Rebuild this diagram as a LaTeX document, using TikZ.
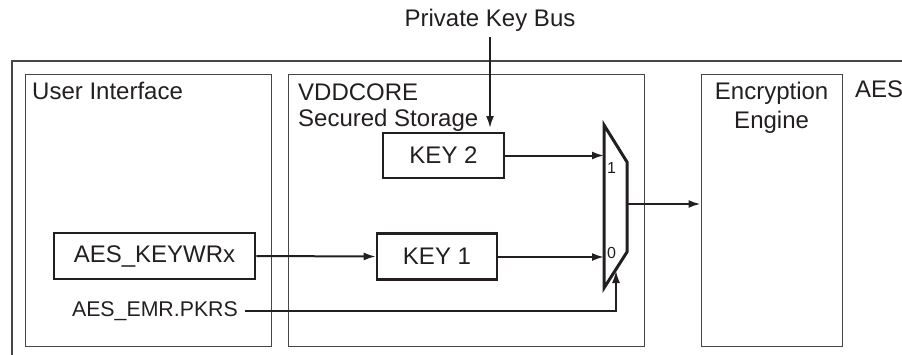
\documentclass[tikz,border=0pt]{standalone}
\usepackage{fontspec}
\setmainfont{Liberation Sans}
\usepackage{tikz}
\usetikzlibrary{arrows.meta,calc,positioning}
\definecolor{ink}{RGB}{35,31,32}
\definecolor{frame}{RGB}{70,70,70}
\newcommand{\LabelFont}{\fontsize{24}{28}\selectfont}
\newcommand{\SmallFont}{\fontsize{21.3}{25}\selectfont}
\newcommand{\PinFont}{\fontsize{16}{18}\selectfont}
\tikzset{
  region/.style={draw=frame, line width=1.2pt, anchor=north west, inner sep=0pt},
  regiontitle/.style={anchor=north west, align=left, font=\LabelFont, text=ink, inner sep=0pt},
  keybox/.style={draw=ink, line width=2.6pt, font=\LabelFont, text=ink, inner sep=0pt},
  flow/.style={-{Latex[length=12pt, width=8pt]}, line width=2pt, draw=ink},
  thinflow/.style={-{Latex[length=12pt, width=8pt]}, line width=1.3pt, draw=ink},
  mux/.style={draw=ink, line width=3pt, line join=miter}
}
\begin{document}
\begin{tikzpicture}[x=1pt, y=-1pt]
  \useasboundingbox (0,0) rectangle (902,354);
  \clip (0,0) rectangle (902,354);
  % outer AES block, cut by the page
  \draw[draw=frame, line width=1.2pt] (12,400) -- (12,61) -- (960,61);
  \node[regiontitle] (aestitle) at (855,81) {AES};
  % three regions
  \node[region, minimum width=246pt, minimum height=272pt] (ui) at (25,74) {};
  \node[region, minimum width=356pt, minimum height=272pt] (vdd) at (288,74) {};
  \node[region, minimum width=141pt, minimum height=272pt] (eng) at (700.5,74) {};
  \node[regiontitle, below right=8pt and 7pt of ui.north west, anchor=north west] (uititle) {User Interface};
  \node[regiontitle, below right=10pt and 10pt of vdd.north west, anchor=north west, font=\fontsize{24}{26}\selectfont] (vddtitle) {VDDCORE\\Secured Storage};
  \node[regiontitle, anchor=north, align=center, font=\fontsize{24}{29}\selectfont] (engtitle) at ($(eng.north)+(0,8)$) {Encryption\\Engine};
  % registers and keys
  \node[keybox, minimum width=201pt, minimum height=46pt] (keywr) at (154.5,256) {AES\_KEYWRx};
  \node[keybox, minimum width=120pt, minimum height=46pt] (key1) at (437,256.5) {KEY 1};
  \node[keybox, minimum width=121pt, minimum height=45pt] (key2) at (443.5,155.5) {KEY 2};
  \node[font=\SmallFont, text=ink, anchor=east, inner sep=0pt] (pkrs) at (238,311) {AES\_EMR.PKRS};
  \node[font=\LabelFont, text=ink, inner sep=0pt] (bus) at (490,20) {Private Key Bus};
  % multiplexer
  \coordinate (mtl) at (604,125);
  \coordinate (mtr) at (627,162);
  \coordinate (mbr) at (627,252);
  \coordinate (mbl) at (604,288);
  \draw[mux] (mtl) -- (mtr) -- (mbr) -- (mbl) -- cycle;
  \coordinate (in1) at (604,155);
  \coordinate (in0) at (604,257);
  \coordinate (mout) at (627,204);
  \coordinate (sel) at (616,271);
  \node[font=\PinFont, text=ink, inner sep=0pt] (pin1) at (611.5,168) {1};
  \node[font=\PinFont, text=ink, inner sep=0pt] (pin0) at (611.5,253) {0};
  % connections
  \draw[flow] (bus.south) ++(0,6) coordinate (busstart) -- (490,128) coordinate (busend);
  \draw[flow] (keywr.east) -- (key1.west);
  \draw[flow] (key1.east |- in0) -- (in0);
  \draw[flow] (key2.east) -- (key2.east -| in1);
  \draw[flow] (mout) -- (mout -| eng.west);
  \draw[thinflow] ($(pkrs.east)+(7,0)$) -| (sel);
\end{tikzpicture}
\end{document}
